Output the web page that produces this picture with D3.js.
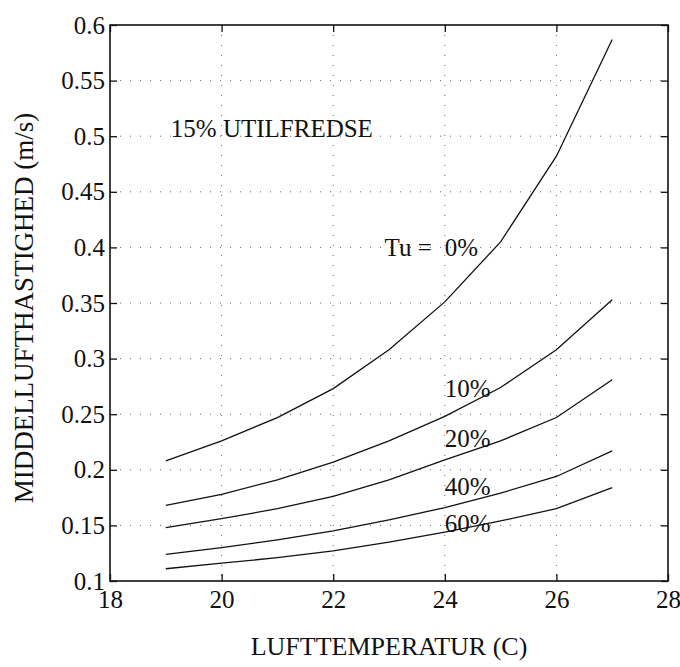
<!DOCTYPE html>
<html>
<head>
<meta charset="utf-8">
<script src="https://cdn.jsdelivr.net/npm/d3@7"></script>
<style>
  body { margin: 0; background: #fff; }
</style>
</head>
<body>
<div id="chart"></div>
<script>
// temperatures along the x axis
const temps = [19, 20, 21, 22, 23, 24, 25, 26, 27]

// mean air velocity (m/s) per turbulence intensity
const tu0 = [0.208, 0.226, 0.247, 0.273, 0.308, 0.351, 0.405, 0.482, 0.587]
const tu10 = [0.168, 0.178, 0.191, 0.207, 0.226, 0.248, 0.274, 0.308, 0.353]
const tu20 = [0.148, 0.156, 0.165, 0.176, 0.191, 0.209, 0.226, 0.247, 0.281]
const tu40 = [0.124, 0.130, 0.137, 0.145, 0.155, 0.166, 0.179, 0.194, 0.217]
const tu60 = [0.111, 0.116, 0.121, 0.127, 0.135, 0.144, 0.154, 0.165, 0.184]

const seriesNames = ['0%', '10%', '20%', '40%', '60%']
const seriesValues = [tu0, tu10, tu20, tu40, tu60]

const xTicks = [18, 20, 22, 24, 26, 28]
const yTicks = [0.1, 0.15, 0.2, 0.25, 0.3, 0.35, 0.4, 0.45, 0.5, 0.55, 0.6]
const yTickLabels = ['0.1', '0.15', '0.2', '0.25', '0.3', '0.35', '0.4', '0.45', '0.5', '0.55', '0.6']

// label anchors, in data units
const labelX = 24
const labelY = [0.392, 0.2655, 0.2205, 0.177, 0.144]

const serif = "'Liberation Serif', 'Times New Roman', Times, serif"

const margin = { top: 25, left: 110, right: 12, bottom: 86 }
const width = 680 - margin.left - margin.right
const height = 667 - margin.top - margin.bottom

const svg = d3
  .select('#chart')
  .append('svg')
  .attr('width', 680)
  .attr('height', 667)

const g = svg
  .append('g')
  .attr('transform', 'translate(' + margin.left + ',' + margin.top + ')')

const x = d3.scaleLinear().domain([18, 28]).range([0, width])
const y = d3.scaleLinear().domain([0.1, 0.6]).range([height, 0])

// dotted grid
g.selectAll('.vgrid')
  .data(xTicks.slice(1, -1))
  .enter()
  .append('line')
  .attr('x1', d => x(d))
  .attr('x2', d => x(d))
  .attr('y1', 0)
  .attr('y2', height)
  .attr('stroke', '#666')
  .attr('stroke-width', 1)
  .attr('stroke-dasharray', '1,9')

g.selectAll('.hgrid')
  .data(yTicks.slice(1, -1))
  .enter()
  .append('line')
  .attr('x1', 0)
  .attr('x2', width)
  .attr('y1', d => y(d))
  .attr('y2', d => y(d))
  .attr('stroke', '#666')
  .attr('stroke-width', 1)
  .attr('stroke-dasharray', '1,9')

// axes with inward ticks
const fontSize = 25
function styleAxis(sel) {
  sel.select('.domain').remove()
  sel.attr('font-family', serif)
  sel.selectAll('line').attr('stroke', '#111').attr('stroke-width', 1.3)
  sel.selectAll('text')
    .style('font-family', serif)
    .style('font-size', fontSize + 'px')
    .attr('fill', '#111')
}

g.append('g')
  .attr('transform', 'translate(0,' + height + ')')
  .call(d3.axisBottom(x).tickValues(xTicks).tickSizeInner(-7).tickSizeOuter(0).tickPadding(9))
  .call(styleAxis)

g.append('g')
  .call(d3.axisTop(x).tickValues(xTicks).tickSizeInner(-7).tickSizeOuter(0).tickFormat(''))
  .call(styleAxis)

g.append('g')
  .call(
    d3.axisLeft(y)
      .tickValues(yTicks)
      .tickSizeInner(-7)
      .tickSizeOuter(0)
      .tickPadding(5)
      .tickFormat((d, i) => yTickLabels[i])
  )
  .call(styleAxis)

g.append('g')
  .attr('transform', 'translate(' + width + ',0)')
  .call(d3.axisRight(y).tickValues(yTicks).tickSizeInner(-7).tickSizeOuter(0).tickFormat(''))
  .call(styleAxis)

// frame
g.append('rect')
  .attr('x', 0)
  .attr('y', 0)
  .attr('width', width)
  .attr('height', height)
  .attr('fill', 'none')
  .attr('stroke', '#111')
  .attr('stroke-width', 1.6)

// curves
const line = d3
  .line()
  .x((d, i) => x(temps[i]))
  .y(d => y(d))

g.selectAll('.curve')
  .data(seriesValues)
  .enter()
  .append('path')
  .attr('class', 'curve')
  .attr('d', line)
  .attr('fill', 'none')
  .attr('stroke', '#111')
  .attr('stroke-width', 1.3)

// curve labels
g.selectAll('.clabel')
  .data(seriesNames)
  .enter()
  .append('text')
  .attr('class', 'clabel')
  .attr('x', x(labelX))
  .attr('y', (d, i) => y(labelY[i]))
  .style('font-family', serif)
  .style('font-size', fontSize + 'px')
  .attr('fill', '#111')
  .text(d => d)

g.append('text')
  .attr('x', x(labelX) - 13)
  .attr('y', y(labelY[0]))
  .attr('text-anchor', 'end')
  .style('font-family', serif)
  .style('font-size', fontSize + 'px')
  .attr('fill', '#111')
  .text('Tu =')

g.append('text')
  .attr('x', x(19.09))
  .attr('y', y(0.499))
  .style('font-family', serif)
  .style('font-size', fontSize + 'px')
  .attr('fill', '#111')
  .text('15% UTILFREDSE')

// axis titles
svg.append('text')
  .attr('x', margin.left + width / 2)
  .attr('y', 655)
  .attr('text-anchor', 'middle')
  .style('font-family', serif)
  .style('font-size', '26px')
  .attr('fill', '#111')
  .text('LUFTTEMPERATUR (C)')

svg.append('text')
  .attr('transform', 'translate(33,' + (margin.top + height / 2 + 5) + ') rotate(-90)')
  .attr('text-anchor', 'middle')
  .style('font-family', serif)
  .style('font-size', '27px')
  .attr('fill', '#111')
  .text('MIDDELLUFTHASTIGHED (m/s)')
</script>
</body>
</html>
